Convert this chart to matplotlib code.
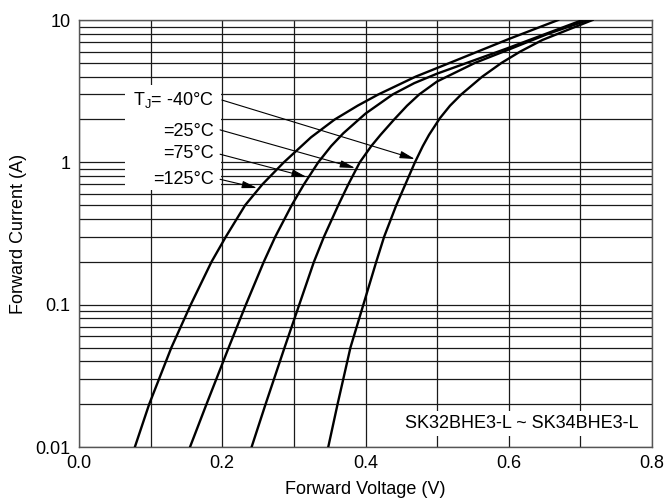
import matplotlib
matplotlib.use("Agg")
import matplotlib.pyplot as plt
from matplotlib.ticker import FixedLocator, NullFormatter, MultipleLocator
from matplotlib.patches import Rectangle

plt.rcParams['font.family'] = ['Liberation Sans', 'DejaVu Sans']
plt.rcParams['mathtext.fontset'] = 'custom'
plt.rcParams['mathtext.rm'] = 'Liberation Sans'

# Forward current (A) / forward voltage (V)
i_125 = [0.01, 0.02, 0.05, 0.1, 0.2, 0.3, 0.5, 0.7, 1.0, 1.5, 2.0, 2.5, 3.0, 4.0, 4.6, 7.35, 10]
v_125 = [0.078, 0.098, 0.129, 0.156, 0.185, 0.205, 0.232, 0.256, 0.286, 0.324, 0.357, 0.389, 0.418, 0.470, 0.500, 0.600, 0.669]

i_75 = [0.01, 0.02, 0.05, 0.1, 0.2, 0.3, 0.5, 0.7, 1.0, 1.3, 1.6, 2.2, 3.0, 3.6, 4.2, 6.3, 10]
v_75 = [0.155, 0.178, 0.209, 0.233, 0.258, 0.274, 0.297, 0.314, 0.334, 0.352, 0.369, 0.400, 0.438, 0.468, 0.500, 0.597, 0.703]

i_25 = [0.01, 0.02, 0.05, 0.1, 0.2, 0.3, 0.5, 0.7, 1.0, 1.3, 1.56, 2.0, 2.5, 3.0, 3.7, 5.0, 6.2, 8.0, 10]
v_25 = [0.241, 0.2605, 0.287, 0.3075, 0.328, 0.342, 0.362, 0.376, 0.392, 0.408, 0.421, 0.440, 0.458, 0.475, 0.500, 0.553, 0.600, 0.655, 0.711]

i_m40 = [0.01, 0.02, 0.05, 0.1, 0.2, 0.3, 0.5, 1.0, 1.3, 1.56, 2.04, 2.5, 3.0, 4.0, 5.0, 6.0, 7.24, 10]
v_m40 = [0.348, 0.361, 0.379, 0.397, 0.415, 0.426, 0.443, 0.469, 0.480, 0.4887, 0.5038, 0.518, 0.5337, 0.563, 0.590, 0.616, 0.647, 0.717]

x_ticks = [0.0, 0.2, 0.4, 0.6, 0.8]
x_tick_labels = ["0.0", "0.2", "0.4", "0.6", "0.8"]
y_ticks = [0.01, 0.1, 1, 10]
y_tick_labels = ["0.01", "0.1", "1", "10"]

labels = ["T$_\\mathregular{J}$= -40°C", "=25°C", "=75°C", "=125°C"]
label_pos = [(0.1885, 2.74), (0.1885, 1.66), (0.1885, 1.15), (0.1885, 0.76)]
arrow_start = [(0.1995, 2.74), (0.197, 1.69), (0.197, 1.14), (0.197, 0.76)]
arrow_tip = [(0.469, 1.055), (0.3855, 0.912), (0.318, 0.788), (0.2486, 0.66)]

part_text = "SK32BHE3-L ~ SK34BHE3-L"

fig = plt.figure(figsize=(6.68, 5.04), dpi=100)
ax = fig.add_axes([79/668, 1-447/504, (652-79)/668, (447-20)/504])
ax.set_yscale('log')
ax.set_xlim(0, 0.8)
ax.set_ylim(0.01, 10)

ax.xaxis.set_major_locator(FixedLocator(x_ticks))
ax.set_xticklabels(x_tick_labels)
ax.xaxis.set_minor_locator(MultipleLocator(0.1))
ax.yaxis.set_major_locator(FixedLocator(y_ticks))
ax.set_yticklabels(y_tick_labels)
ax.yaxis.set_minor_locator(FixedLocator([m * 10.0**e for e in (-2, -1, 0) for m in range(2, 10)]))
ax.yaxis.set_minor_formatter(NullFormatter())
ax.tick_params(which='both', length=0, labelsize=13, pad=6)

ax.grid(True, which='both', color='#1a1a1a', lw=0.9)
ax.set_axisbelow(True)
for s in ax.spines.values():
    s.set_color('#555555')
    s.set_linewidth(1.0)

for iv, vv in [(i_125, v_125), (i_75, v_75), (i_25, v_25), (i_m40, v_m40)]:
    ax.plot(vv, iv, color='black', lw=1.7, solid_joinstyle='round', zorder=3)

# white area behind temperature labels
ax.add_patch(Rectangle((0.064, 0.64), 0.198-0.064, 3.49-0.64, facecolor='white',
                       edgecolor='none', zorder=2))
for lab, (x, y) in zip(labels, label_pos):
    ax.text(x, y, lab, ha='right', va='center', fontsize=13, zorder=4)
for (xs, ys), (xt, yt) in zip(arrow_start, arrow_tip):
    ax.annotate('', xy=(xt, yt), xytext=(xs, ys),
                arrowprops=dict(arrowstyle='-|>,head_length=0.9,head_width=0.22',
                                lw=0.8, color='black', shrinkA=0, shrinkB=0),
                zorder=5)

ax.text(0.781, 0.0147, part_text, ha='right', va='center', fontsize=13, zorder=4,
        bbox=dict(facecolor='white', edgecolor='none', pad=3))

ax.set_xlabel("Forward Voltage (V)", fontsize=13, labelpad=6)
ax.set_ylabel("Forward Current (A)", fontsize=13, labelpad=6)

fig.savefig("out.png", dpi=100)
